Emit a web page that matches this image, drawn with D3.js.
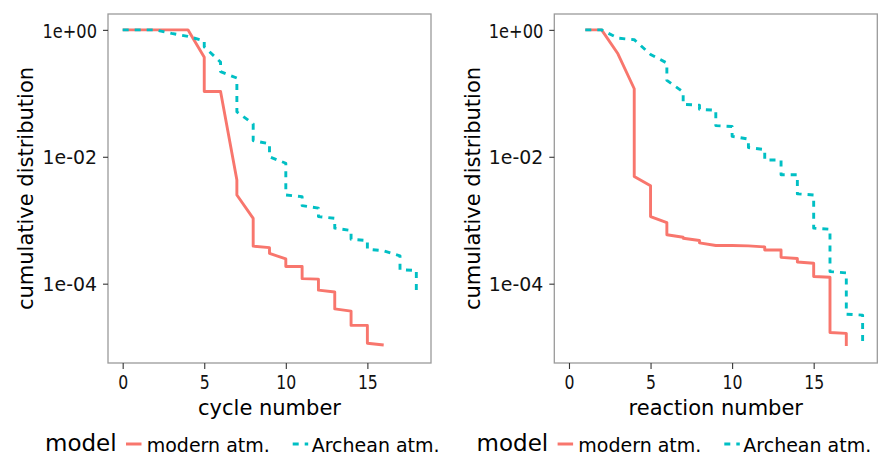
<!DOCTYPE html>
<html>
<head>
<meta charset="utf-8">
<script src="https://cdn.jsdelivr.net/npm/d3@7"></script>
<style>
  html, body { margin: 0; padding: 0; background: #ffffff; }
  svg { display: block; font-family: "DejaVu Sans", sans-serif; }
</style>
</head>
<body>
<svg id="chart" width="878" height="454"></svg>
<script>
// ---- data ----
const cycleModernX = [0, 4, 5, 5, 6, 7, 7, 8, 8, 9, 9, 10, 10, 11, 11, 12, 12, 13, 13, 14, 14, 15, 15, 16];
const cycleModernY = [1, 1, 0.37, 0.107, 0.107, 4.3e-3, 2.5e-3, 1.07e-3, 3.9e-4, 3.7e-4, 3.0e-4, 2.45e-4, 1.87e-4, 1.87e-4, 1.2e-4, 1.18e-4, 7.9e-5, 7.4e-5, 4.0e-5, 3.7e-5, 2.2e-5, 2.2e-5, 1.15e-5, 1.08e-5];

const cycleArcheanX = [0, 2, 3, 4, 5, 5, 6, 6, 7, 7, 8, 8, 9, 9, 10, 10, 11, 11, 12, 12, 13, 13, 14, 14, 15, 15, 16, 17, 17, 18, 18];
const cycleArcheanY = [1, 1, 0.88, 0.79, 0.67, 0.54, 0.31, 0.22, 0.174, 0.051, 0.033, 0.018, 0.016, 0.01, 0.0079, 0.0025, 0.00235, 0.0017, 0.00155, 0.00114, 0.00107, 0.00075, 0.00069, 0.0005, 0.00048, 0.00035, 0.00033, 0.000275, 0.000166, 0.000162, 0.000072];

const reactionModernX = [1, 2, 3, 4, 4, 5, 5, 6, 6, 7, 7, 8, 8, 9, 10, 11, 12, 12, 13, 13, 14, 14, 15, 15, 16, 16, 17, 17];
const reactionModernY = [1, 1, 0.42, 0.118, 4.9e-3, 3.5e-3, 1.14e-3, 9.2e-4, 5.9e-4, 5.4e-4, 5.2e-4, 4.8e-4, 4.4e-4, 4.0e-4, 4.0e-4, 3.95e-4, 3.8e-4, 3.4e-4, 3.4e-4, 2.6e-4, 2.5e-4, 2.2e-4, 2.1e-4, 1.3e-4, 1.26e-4, 1.7e-5, 1.65e-5, 1.04e-5];

const reactionArcheanX = [1, 2, 3, 4, 5, 6, 6, 7, 7, 8, 8, 9, 9, 10, 10, 11, 11, 12, 12, 13, 13, 14, 14, 15, 15, 16, 16, 17, 17, 18, 18];
const reactionArcheanY = [1, 1, 0.74, 0.70, 0.41, 0.30, 0.16, 0.105, 0.067, 0.065, 0.056, 0.054, 0.031, 0.030, 0.021, 0.019, 0.014, 0.013, 0.0089, 0.0089, 0.0052, 0.0052, 0.0026, 0.0025, 7.5e-4, 7.2e-4, 1.55e-4, 1.48e-4, 3.3e-5, 3.2e-5, 1.17e-5];

const yTickValues = [1, 1e-2, 1e-4];
const yTickLabels = ["1e+00", "1e-02", "1e-04"];
const xTickValues = [0, 5, 10, 15];
const xTickLabels = ["0", "5", "10", "15"];
const seriesNames = ["modern atm.", "Archean atm."];
const legendTitle = "model";
const yTitle = "cumulative distribution";
const xTitles = ["cycle number", "reaction number"];

// ---- layout ----
const colors = ["#F8766D", "#00BFC4"];
const dashes = [null, "6,6"];
const svg = d3.select("#chart");

const panels = [
  { left: 108, right: 431, xTitle: xTitles[0], yTitleX: 33.3, legendDx: 0,
    series: [{x: cycleModernX, y: cycleModernY}, {x: cycleArcheanX, y: cycleArcheanY}] },
  { left: 554.3, right: 877.3, xTitle: xTitles[1], yTitleX: 479.5, legendDx: 431.6,
    series: [{x: reactionModernX, y: reactionModernY}, {x: reactionArcheanX, y: reactionArcheanY}] }
];
const plotTop = 14, plotBottom = 363;

panels.forEach(p => {
  const x = d3.scaleLinear().domain([-0.9, 18.9]).range([p.left, p.right]);
  const y = d3.scaleLog().domain([Math.pow(10, -5.25), Math.pow(10, 0.25)]).range([plotBottom, plotTop]);
  const g = svg.append("g");

  g.append("rect")
    .attr("x", p.left).attr("y", plotTop)
    .attr("width", p.right - p.left).attr("height", plotBottom - plotTop)
    .attr("fill", "#ffffff").attr("stroke", "none");

  const line = d3.line().x(d => x(d[0])).y(d => y(d[1])).curve(d3.curveLinear);
  p.series.forEach((s, i) => {
    const pts = s.x.map((v, k) => [v, s.y[k]]);
    g.append("path")
      .datum(pts)
      .attr("d", line)
      .attr("fill", "none")
      .attr("stroke", colors[i])
      .attr("stroke-width", 2.9)
      .attr("stroke-linejoin", "round")
      .attr("stroke-linecap", "butt")
      .attr("stroke-dasharray", dashes[i]);
  });

  g.append("rect")
    .attr("x", p.left).attr("y", plotTop)
    .attr("width", p.right - p.left).attr("height", plotBottom - plotTop)
    .attr("fill", "none").attr("stroke", "#9a9a9a").attr("stroke-width", 1.3);

  const ya = g.append("g").attr("transform", `translate(${p.left},0)`)
    .call(d3.axisLeft(y).tickValues(yTickValues)
      .tickFormat((d, i) => yTickLabels[i]).tickSize(5).tickPadding(6));
  ya.select(".domain").remove();
  ya.selectAll(".tick line").attr("stroke", "#333333").attr("stroke-width", 1.1);
  ya.selectAll(".tick text")
    .attr("font-family", "DejaVu Sans").attr("font-size", 19.5).attr("fill", "#111111")
    .attr("dy", "0.37em")
    .attr("textLength", 54.5).attr("lengthAdjust", "spacingAndGlyphs");

  const xa = g.append("g").attr("transform", `translate(0,${plotBottom})`)
    .call(d3.axisBottom(x).tickValues(xTickValues)
      .tickFormat((d, i) => xTickLabels[i]).tickSize(6).tickPadding(6));
  xa.select(".domain").remove();
  xa.selectAll(".tick line").attr("stroke", "#333333").attr("stroke-width", 1.1);
  xa.selectAll(".tick text")
    .attr("font-family", "DejaVu Sans").attr("font-size", 19.5).attr("fill", "#111111")
    .attr("y", 26.3).attr("dy", "0")
    .attr("textLength", (d, i) => 10 * xTickLabels[i].length)
    .attr("lengthAdjust", "spacingAndGlyphs");

  g.append("text")
    .attr("x", (p.left + p.right) / 2).attr("y", 415)
    .attr("text-anchor", "middle").attr("font-size", 21).attr("fill", "#000")
    .text(p.xTitle);
  g.append("text")
    .attr("transform", `translate(${p.yTitleX},${(plotTop + plotBottom) / 2}) rotate(-90)`)
    .attr("text-anchor", "middle").attr("font-size", 21).attr("fill", "#000")
    .text(yTitle);

  const lg = g.append("g").attr("transform", `translate(${p.legendDx},0)`);
  lg.append("text").attr("x", 45).attr("y", 450.5)
    .attr("font-size", 23).attr("fill", "#000")
    .text(legendTitle);
  const keyX = [126, 292.7];
  const labX = [146.7, 311.7];
  seriesNames.forEach((name, i) => {
    lg.append("line")
      .attr("x1", keyX[i]).attr("x2", keyX[i] + 15.5)
      .attr("y1", 444).attr("y2", 444)
      .attr("stroke", colors[i]).attr("stroke-width", 3)
      .attr("stroke-dasharray", dashes[i]);
    lg.append("text").attr("x", labX[i]).attr("y", 451.5)
      .attr("font-size", 19).attr("fill", "#000")
      .text(name);
  });
});
</script>
</body>
</html>
